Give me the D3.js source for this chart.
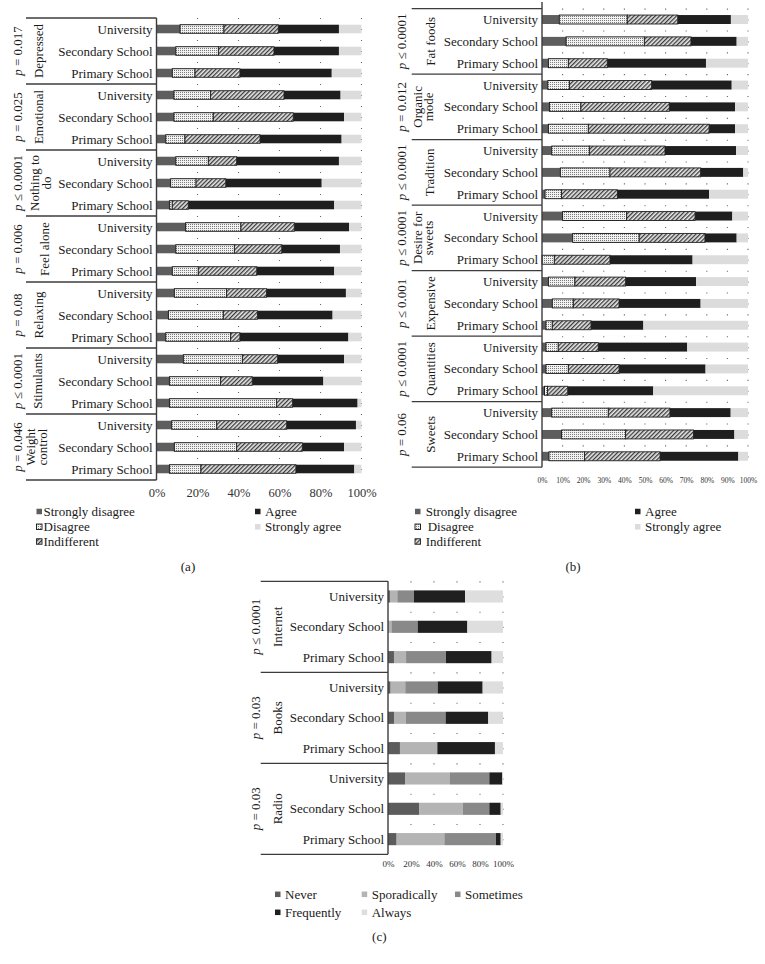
<!DOCTYPE html>
<html><head><meta charset="utf-8">
<script src="https://cdn.jsdelivr.net/npm/d3@7"></script>
<style>body{margin:0;background:#fff} text{font-family:"Liberation Serif","Times New Roman",serif;fill:#1a1a1a}</style>
</head><body><svg id="chart" width="765" height="964"></svg>
<script>
// ---------- DATA ----------
const levels = ["University","Secondary School","Primary School"];

const keysA = ["Strongly disagree","Disagree","Indifferent","Agree","Strongly agree"];
const groupsA = [["Depressed"],["Emotional"],["Nothing to","do"],["Feel alone"],["Relaxing"],["Stimulants"],["Weight","control"]];
const pA = ["= 0.017","= 0.025","≤ 0.0001","= 0.006","= 0.08","≤ 0.0001","= 0.046"];
const sdA = [11.5,9.4,7.7, 8.5,8.5,4.5, 9.4,6.9,6.3, 14.2,9.4,7.7, 8.7,5.8,4.5, 13.1,6.3,6.3, 7.4,8.7,6.3];
const dA  = [21.4,20.8,11.1, 17.9,19.2,9.4, 15.9,12.4,1.4, 27.0,28.6,12.7, 25.5,26.8,31.7, 28.8,25.0,52.3, 22.0,30.4,15.4];
const iA  = [26.5,27.1,21.9, 35.8,39.0,36.6, 13.8,14.5,7.8, 26.0,23.1,28.5, 19.5,16.6,4.5, 17.2,15.4,7.8, 34.1,32.0,46.3];
const aA  = [29.6,31.7,44.8, 27.6,24.8,39.8, 49.9,46.8,71.2, 26.7,28.4,37.8, 38.7,36.7,52.9, 32.4,34.7,31.7, 33.8,20.4,28.5];
const saA = [11.0,11.0,14.5, 10.2,8.5,9.7, 11.0,19.4,13.3, 6.1,10.5,13.3, 7.6,14.1,6.4, 8.5,18.6,1.9, 2.7,8.5,3.5];
const ticksA = [0,20,40,60,80,100];

const groupsB = [["Fat foods"],["Organic","mode"],["Tradition"],["Desire for","sweets"],["Expensive"],["Quantities"],["Sweets"]];
const pB = ["≤ 0.0001","= 0.012","≤ 0.0001","≤ 0.0001","≤ 0.001","≤ 0.0001","= 0.06"];
const sdB = [8.4,11.7,3.1, 2.8,3.6,3.1, 4.7,8.9,1.5, 10.0,14.9,0, 3.1,5.0,1.9, 1.9,1.9,1.2, 4.7,9.5,3.4];
const dB  = [33.0,38.0,9.7, 10.5,15.3,19.4, 18.3,24.1,8.0, 31.1,32.3,6.0, 12.9,10.2,3.1, 6.0,10.9,1.5, 27.5,31.1,17.2];
const iB  = [24.5,22.6,18.9, 39.9,42.9,58.6, 36.7,44.0,27.1, 33.2,31.9,27.0, 24.6,22.2,18.8, 19.4,24.6,9.8, 29.9,32.9,36.7];
const aB  = [25.8,22.2,47.9, 38.9,31.9,12.6, 34.5,20.7,44.5, 18.1,15.4,40.1, 34.2,39.6,25.4, 43.2,42.0,41.5, 29.5,19.9,38.0];
const saB = [8.3,5.5,20.4, 7.9,6.3,6.3, 5.8,2.3,18.9, 7.6,5.5,26.9, 25.2,23.0,50.8, 29.5,20.6,46.0, 8.4,6.6,4.7];
const ticksB = [0,10,20,30,40,50,60,70,80,90,100];

const keysC = ["Never","Sporadically","Sometimes","Frequently","Always"];
const groupsC = [["Internet"],["Books"],["Radio"]];
const pC = ["≤ 0.0001","= 0.03","= 0.03"];
const neverC  = [1.7,0.5,5.2, 2.3,5.2,10.4, 14.8,27.0,7.5];
const sporC   = [6.4,2.5,10.5, 12.7,10.2,32.5, 39.1,38.0,41.5];
const someC   = [14.5,22.8,34.7, 28.2,34.7,0, 34.2,23.1,44.9];
const freqC   = [44.4,43.2,39.7, 39.1,37.1,50.1, 11.3,9.9,4.1];
const alwaysC = [33.0,31.0,9.9, 17.7,12.8,7.0, 0.6,2.0,2.0];
const ticksC = [0,20,40,60,80,100];

// ---------- DRAW ----------
const svg = d3.select("#chart");
svg.append("rect").attr("width",765).attr("height",964).attr("fill","#fff");
const defs = svg.append("defs");
const pd = defs.append("pattern").attr("id","dots").attr("width",2).attr("height",2).attr("patternUnits","userSpaceOnUse");
pd.append("rect").attr("width",2).attr("height",2).attr("fill","#f2f2f2");
pd.append("rect").attr("width",1).attr("height",1).attr("fill","#7a7a7a");
const ph = defs.append("pattern").attr("id","hatch").attr("width",3).attr("height",3).attr("patternUnits","userSpaceOnUse").attr("patternTransform","rotate(45)");
ph.append("rect").attr("width",3).attr("height",3).attr("fill","#e8e8e8");
ph.append("rect").attr("width",1.3).attr("height",3).attr("fill","#3a3a3a");

const likertStyle = {
  "Strongly disagree":{fill:"#5e5e5e",stroke:null},
  "Disagree":{fill:"url(#dots)",stroke:"#111"},
  "Indifferent":{fill:"url(#hatch)",stroke:"#222"},
  "Agree":{fill:"#1f1f1f",stroke:null},
  "Strongly agree":{fill:"#dcdcdc",stroke:null}
};
const freqStyle = {
  "Never":{fill:"#5c5c5c",stroke:null},
  "Sporadically":{fill:"#b4b4b4",stroke:null},
  "Sometimes":{fill:"#898989",stroke:null},
  "Frequently":{fill:"#1f1f1f",stroke:null},
  "Always":{fill:"#dedede",stroke:null}
};

function drawPanel(c){
  const n = c.groups.length*3;
  const x = d3.scaleLinear().domain([0,100]).range([c.x0,c.x1]);
  const y = d3.scaleBand().domain(d3.range(n)).range([c.top,c.bottom]).paddingInner(c.pad).paddingOuter(c.pad/2);
  const g = svg.append("g");
  // gridlines
  const step = y.step();
  g.selectAll("line.grid").data(c.ticks.filter(t=>t>0)).join("line")
    .attr("x1",d=>x(d)).attr("x2",d=>x(d))
    .attr("y1",c.top).attr("y2",c.bottom)
    .attr("stroke","#666").attr("stroke-width",1.1)
    .attr("stroke-dasharray",`1.1 ${step/2-1.1}`);
  // stacked bars
  const rows = d3.range(n).map(i=>{const o={}; c.keys.forEach((k,ki)=>o[k]=c.series[ki][i]); return o;});
  const stacked = d3.stack().keys(c.keys)(rows);
  stacked.forEach(layer=>{
    const st = c.style[layer.key];
    g.append("g").selectAll("rect").data(layer).join("rect")
      .attr("x",d=>x(d[0])).attr("width",d=>Math.max(0,x(d[1])-x(d[0])))
      .attr("y",(d,i)=>y(i)).attr("height",y.bandwidth())
      .attr("fill",st.fill)
      .attr("stroke",d=> (st.stroke && d[1]-d[0]>0.01)?st.stroke:null)
      .attr("stroke-width",0.9);
  });
  // table lines
  const bounds = d3.range(c.groups.length+1).map(k=> k===c.groups.length ? c.bottom : y(k*3) - (step-y.bandwidth())/2);
  g.selectAll("line.sep").data(bounds).join("line")
    .attr("x1",c.lineX0).attr("x2",c.x0).attr("y1",d=>d).attr("y2",d=>d)
    .attr("stroke","#3c3c3c").attr("stroke-width",1.3);
  g.append("line").attr("x1",c.x0).attr("x2",c.x0).attr("y1",c.axisTop).attr("y2",c.bottom)
    .attr("stroke","#3c3c3c").attr("stroke-width",1.4);
  // category labels
  g.selectAll("text.cat").data(d3.range(n)).join("text")
    .attr("x",c.x0-4).attr("y",i=>y(i)+y.bandwidth()/2)
    .attr("text-anchor","end").attr("dominant-baseline","central")
    .attr("font-size",13).text(i=>levels[i%3]);
  // group labels
  c.groups.forEach((lines,gi)=>{
    const cy = y(gi*3+1)+y.bandwidth()/2;
    lines.forEach((ln,li)=>{
      g.append("text").attr("transform",`translate(${c.labelX[gi][li]},${cy}) rotate(-90)`)
        .attr("text-anchor","middle").attr("dominant-baseline","central").attr("font-size",13).text(ln);
    });
    const pt = g.append("text").attr("transform",`translate(${c.pX},${cy}) rotate(-90)`)
      .attr("text-anchor","middle").attr("dominant-baseline","central").attr("font-size",13);
    pt.append("tspan").attr("font-style","italic").text("p");
    pt.append("tspan").text(" "+c.pvals[gi]);
  });
  // axis
  const ax = g.append("g").attr("transform",`translate(0,${c.tickY})`)
    .call(d3.axisBottom(x).tickValues(c.ticks).tickFormat(d=>d+"%").tickSize(0).tickPadding(0));
  ax.select(".domain").remove();
  ax.selectAll("text").attr("y",0).attr("dy",null).attr("dominant-baseline","central")
    .attr("font-size",c.tickFont).attr("font-family","Liberation Serif").style("fill","#333");
}

drawPanel({groups:groupsA,pvals:pA,keys:keysA,series:[sdA,dA,iA,aA,saA],style:likertStyle,
  x0:156.5,x1:361.5,top:18,bottom:480,pad:0.61,lineX0:26,axisTop:18,ticks:ticksA,tickY:493,tickFont:12.5,
  labelX:[[38],[38],[34,46],[44],[38],[37],[30,42]],pX:17});
drawPanel({groups:groupsB,pvals:pB,keys:keysA,series:[sdB,dB,iB,aB,saB],style:likertStyle,
  x0:542,x1:748,top:8.6,bottom:467.2,pad:0.59,lineX0:411.7,axisTop:2,ticks:ticksB,tickY:480,tickFont:7.5,
  labelX:[[430],[417,428],[429],[417,428],[430],[430],[430]],pX:401});
drawPanel({groups:groupsC,pvals:pC,keys:keysC,series:[neverC,sporC,someC,freqC,alwaysC],style:freqStyle,
  x0:388,x1:503,top:581.3,bottom:854.3,pad:0.6,lineX0:260.7,axisTop:581.3,ticks:ticksC,tickY:864,tickFont:9,
  labelX:[[277.5],[277.5],[277.5]],pX:255});

// legends
function legend(items){
  items.forEach(it=>{
    svg.append("rect").attr("x",it.mx).attr("y",it.y-2.75).attr("width",5.5).attr("height",5.5)
      .attr("fill",it.st.fill).attr("stroke",it.st.stroke).attr("stroke-width",it.st.stroke?0.9:null);
    svg.append("text").attr("x",it.tx).attr("y",it.y).attr("dominant-baseline","central")
      .attr("font-size",13).text(it.label);
  });
}
const legAy=[511.5,526.8,541.5];
legend([
  {label:keysA[0],st:likertStyle[keysA[0]],mx:36.5,tx:43.5,y:legAy[0]},
  {label:keysA[1],st:likertStyle[keysA[1]],mx:36.5,tx:43.5,y:legAy[1]},
  {label:keysA[2],st:likertStyle[keysA[2]],mx:36.5,tx:43.5,y:legAy[2]},
  {label:keysA[3],st:likertStyle[keysA[3]],mx:255,tx:265,y:legAy[0]},
  {label:keysA[4],st:likertStyle[keysA[4]],mx:255,tx:265,y:legAy[1]},
  {label:keysA[0],st:likertStyle[keysA[0]],mx:415,tx:425.7,y:legAy[0]},
  {label:keysA[1],st:likertStyle[keysA[1]],mx:415,tx:427.7,y:legAy[1]},
  {label:keysA[2],st:likertStyle[keysA[2]],mx:415,tx:425.7,y:legAy[2]},
  {label:keysA[3],st:likertStyle[keysA[3]],mx:635,tx:645,y:legAy[0]},
  {label:keysA[4],st:likertStyle[keysA[4]],mx:635,tx:645,y:legAy[1]},
  {label:keysC[0],st:freqStyle[keysC[0]],mx:275,tx:285,y:894.3},
  {label:keysC[1],st:freqStyle[keysC[1]],mx:361.7,tx:371.7,y:894.3},
  {label:keysC[2],st:freqStyle[keysC[2]],mx:455,tx:465,y:894.3},
  {label:keysC[3],st:freqStyle[keysC[3]],mx:275,tx:285,y:912.3},
  {label:keysC[4],st:freqStyle[keysC[4]],mx:361.7,tx:371.7,y:912.3}
]);
// captions
[["(a)",188,566],["(b)",573,566],["(c)",379.3,936.7]].forEach(([t,cx,cy])=>{
  svg.append("text").attr("x",cx).attr("y",cy).attr("text-anchor","middle").attr("dominant-baseline","central")
    .attr("font-size",13).text(t);
});
</script></body></html>
